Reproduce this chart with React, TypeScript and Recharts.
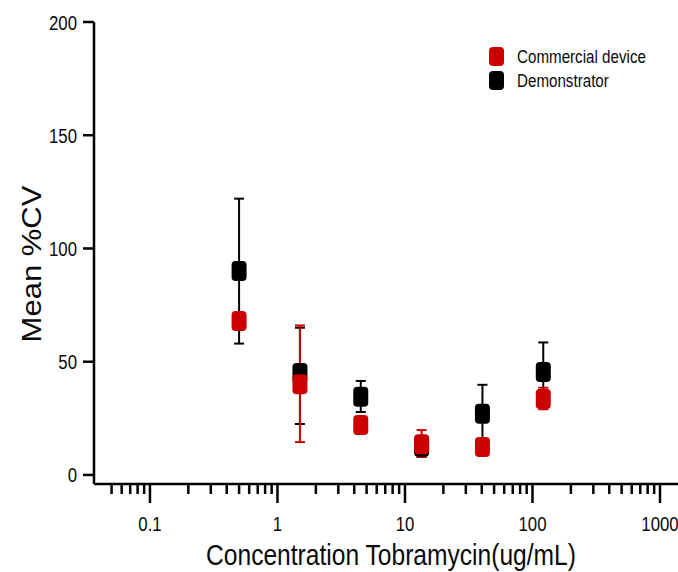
import { ScatterChart, Scatter, XAxis, YAxis, ErrorBar } from 'recharts';

// 3-fold dilution series (ug/mL)
const concentrations = [0.5, 1.5, 4.5, 13.5, 40.5, 121.5];

// Mean %CV, errors as [below, above]
const demonstratorMean = [90, 45, 34.5, 12.5, 27, 45.5];
const demonstratorErr = [[32, 32], [22.5, 20], [6.7, 7], [4.5, 3], [12, 12.8], [8, 13]];
const commercialMean = [68, 40, 22, 13.5, 12.3, 33.5];
const commercialErr = [[3, 3], [25.5, 26], [2, 2], [5.5, 6.3], [2, 2], [4.5, 5]];

const xMajorTicks = [0.1, 1, 10, 100, 1000];
const xMinorTicks = [
    0.05, 0.06, 0.07, 0.08, 0.09,
    0.2, 0.3, 0.4, 0.5, 0.6, 0.7, 0.8, 0.9,
    2, 3, 4, 5, 6, 7, 8, 9,
    20, 30, 40, 50, 60, 70, 80, 90,
    200, 300, 400, 500, 600, 700, 800, 900,
];
const yTicks = [0, 50, 100, 150, 200];

const RED = '#cc0000';
const BLACK = '#000000';
const TEXT = '#0a0a0a';
const FONT = '"Liberation Sans", Arial, sans-serif';
const SQUEEZE = 0.82; // the original text is horizontally condensed

const demonstratorData = concentrations.map((c, i) => ({ x: c, y: demonstratorMean[i], err: demonstratorErr[i] }));
const commercialData = concentrations.map((c, i) => ({ x: c, y: commercialMean[i], err: commercialErr[i] }));

const allXTicks = [...xMajorTicks, ...xMinorTicks].sort((a, b) => a - b);

function XTick(props: any) {
    const { x, y, payload } = props;
    const major = xMajorTicks.includes(payload.value);
    return (
        <g>
            <line x1={x} y1={y} x2={x} y2={y + (major ? 19 : 10)} stroke={BLACK} strokeWidth={2.5} />
            {major && (
                <text
                    transform={`translate(${x},${y + 47}) scale(${SQUEEZE},1)`}
                    textAnchor="middle"
                    fontSize={20.5}
                    fontFamily={FONT}
                    fill={TEXT}
                >
                    {String(payload.value)}
                </text>
            )}
        </g>
    );
}

function YTick(props: any) {
    const { x, y, payload } = props;
    return (
        <g>
            <line x1={x - 11} y1={y} x2={x} y2={y} stroke={BLACK} strokeWidth={2.5} />
            <text
                transform={`translate(${x - 17},${y + 7.5}) scale(${SQUEEZE},1)`}
                textAnchor="end"
                fontSize={20.5}
                fontFamily={FONT}
                fill={TEXT}
            >
                {payload.value}
            </text>
        </g>
    );
}

function Marker(props: any) {
    const { cx, cy, fill } = props;
    if (cx == null || cy == null) return null;
    return <rect x={cx - 7.5} y={cy - 10} width={15} height={20} rx={4} ry={4} fill={fill} />;
}

function XTitle() {
    return (
        <text
            transform={`translate(391,565) scale(${SQUEEZE},1)`}
            textAnchor="middle"
            fontSize={30}
            fontFamily={FONT}
            fill={TEXT}
        >
            Concentration Tobramycin(ug/mL)
        </text>
    );
}

// y title plus the legend box in the top right
function YTitleAndLegend() {
    return (
        <g>
            <text
                transform={`translate(41,264) scale(0.9,1) rotate(-90)`}
                textAnchor="middle"
                fontSize={31}
                fontFamily={FONT}
                fill={TEXT}
            >
                Mean  %CV
            </text>
            <rect x={489} y={47} width={15} height={19} rx={4} fill={RED} />
            <rect x={489} y={71} width={15} height={19} rx={4} fill={BLACK} />
            <text transform={`translate(517,63) scale(${SQUEEZE},1)`} fontSize={18.5} fontFamily={FONT} fill={TEXT}>
                Commercial device
            </text>
            <text transform={`translate(517,87) scale(${SQUEEZE},1)`} fontSize={18.5} fontFamily={FONT} fill={TEXT}>
                Demonstrator
            </text>
        </g>
    );
}

export default function App() {
    return (
        <div style={{ position: 'fixed', left: 0, top: 0, width: 678, height: 572, background: '#fff' }}>
            <ScatterChart width={678} height={572} margin={{ top: 22, right: 0, bottom: 0, left: 0 }}>
                <XAxis
                    type="number"
                    dataKey="x"
                    scale="log"
                    domain={[0.0364, 1384]}
                    allowDataOverflow
                    ticks={allXTicks}
                    interval={0}
                    height={88}
                    tickSize={0}
                    tickMargin={0}
                    tickLine={false}
                    tick={<XTick />}
                    axisLine={{ stroke: BLACK, strokeWidth: 2.5 }}
                    label={<XTitle />}
                />
                <YAxis
                    type="number"
                    dataKey="y"
                    domain={[-4, 200]}
                    allowDataOverflow
                    ticks={yTicks}
                    interval={0}
                    width={94}
                    tickSize={0}
                    tickMargin={0}
                    tickLine={false}
                    tick={<YTick />}
                    axisLine={{ stroke: BLACK, strokeWidth: 2.5 }}
                    label={<YTitleAndLegend />}
                />
                <Scatter data={demonstratorData} fill={BLACK} shape={<Marker />} isAnimationActive={false}>
                    <ErrorBar dataKey="err" direction="y" width={5} stroke={BLACK} strokeWidth={2} />
                </Scatter>
                <Scatter data={commercialData} fill={RED} shape={<Marker />} isAnimationActive={false}>
                    <ErrorBar dataKey="err" direction="y" width={5} stroke={RED} strokeWidth={2} />
                </Scatter>
            </ScatterChart>
        </div>
    );
}
